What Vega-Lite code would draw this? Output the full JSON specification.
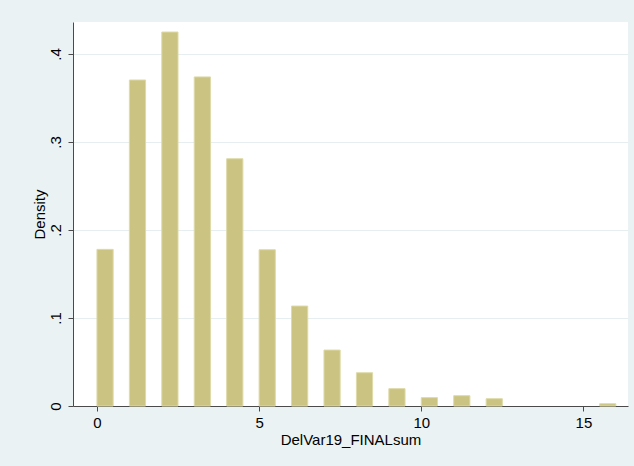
{
  "$schema": "https://vega.github.io/schema/vega-lite/v6.json",
  "width": 555,
  "height": 384,
  "autosize": {"type": "none"},
  "padding": {"left": 73, "top": 22, "right": 6, "bottom": 60},
  "background": "#eaf2f3",
  "config": {
    "view": {"fill": "white", "stroke": null},
    "font": "Liberation Sans",
    "axis": {
      "labelFont": "Liberation Sans",
      "titleFont": "Liberation Sans",
      "labelFontSize": 15,
      "titleFontSize": 15,
      "labelColor": "black",
      "titleColor": "black",
      "titleFontWeight": "normal",
      "domainColor": "#4a4a4a",
      "tickColor": "#4a4a4a",
      "tickSize": 5,
      "gridColor": "#e6eeef",
      "gridWidth": 1
    }
  },
  "data": {
    "values": [
      {"bin_start": 0, "bin_end": 0.5, "density": 0.178},
      {"bin_start": 1, "bin_end": 1.5, "density": 0.3705},
      {"bin_start": 2, "bin_end": 2.5, "density": 0.425},
      {"bin_start": 3, "bin_end": 3.5, "density": 0.374},
      {"bin_start": 4, "bin_end": 4.5, "density": 0.281},
      {"bin_start": 5, "bin_end": 5.5, "density": 0.1776},
      {"bin_start": 6, "bin_end": 6.5, "density": 0.1136},
      {"bin_start": 7, "bin_end": 7.5, "density": 0.0636},
      {"bin_start": 8, "bin_end": 8.5, "density": 0.0378},
      {"bin_start": 9, "bin_end": 9.5, "density": 0.0197},
      {"bin_start": 10, "bin_end": 10.5, "density": 0.0095},
      {"bin_start": 11, "bin_end": 11.5, "density": 0.0117},
      {"bin_start": 12, "bin_end": 12.5, "density": 0.0083},
      {"bin_start": 15.5, "bin_end": 16, "density": 0.0026}
    ]
  },
  "mark": {"type": "bar", "orient": "vertical", "fill": "#cbc381", "stroke": "#dedaa8", "strokeWidth": 1},
  "encoding": {
    "x": {
      "field": "bin_start",
      "type": "quantitative",
      "scale": {"domain": [-0.584, 16.22], "nice": false, "zero": false},
      "axis": {"values": [0, 5, 10, 15], "grid": false, "title": "DelVar19_FINALsum", "labelPadding": 4, "titlePadding": 2, "labelFlush": false}
    },
    "x2": {"field": "bin_end"},
    "y": {
      "field": "density",
      "type": "quantitative",
      "scale": {"domain": [0, 0.4364], "nice": false},
      "axis": {
        "values": [0, 0.1, 0.2, 0.3, 0.4],
        "grid": true,
        "title": "Density",
        "labelAngle": -90,
        "labelAlign": "center",
        "labelBaseline": "bottom",
        "labelPadding": 5,
        "titlePadding": 1,
        "labelFlush": false,
        "labelExpr": "datum.value == 0 ? '0' : replace(format(datum.value, '.1f'), '0.', '.')"
      }
    },
    "y2": {"datum": 0}
  }
}
